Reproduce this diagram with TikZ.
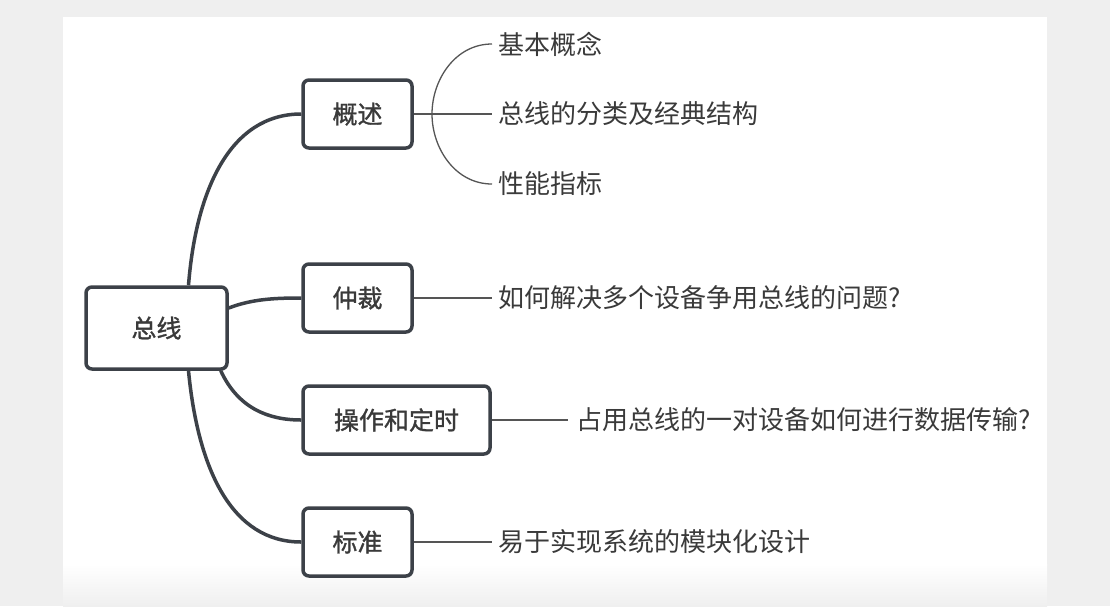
\documentclass[tikz,border=0pt]{standalone}
\usepackage{fontspec}
\setmainfont{Noto Sans CJK SC}
\newfontfamily\cjkbold{Noto Sans CJK SC}[FakeBold=1.2]
\usetikzlibrary{calc,backgrounds}
\definecolor{bggray}{HTML}{EFEFEF}
\definecolor{boxline}{HTML}{3C4148}
\definecolor{txt}{HTML}{3A3A3A}
\definecolor{thin}{HTML}{555555}
\tikzset{
  topicbox/.style={draw=boxline, line width=3.5pt, rounded corners=6pt, fill=white,
    minimum height=68pt, inner sep=0pt, font=\cjkbold\fontsize{25}{25}\selectfont, text=txt},
  leaf/.style={anchor=west, inner sep=0pt, font=\fontsize{26}{26}\selectfont, text=txt},
  thick link/.style={draw=boxline, line width=3.5pt},
  thin link/.style={draw=thin, line width=1.3pt},
}
\begin{document}
\begin{tikzpicture}[x=1pt,y=-1pt]
\useasboundingbox (0,0) rectangle (1110,606);

\node[topicbox, minimum width=141pt, minimum height=82pt] (zx) at (156.5,328) {总线};
\node[topicbox, minimum width=109pt] (gs) at (357.5,114) {概述};
\node[topicbox, minimum width=109pt] (zc) at (357.5,298) {仲裁};
\node[topicbox, minimum width=187pt] (cz) at (396.5,420) {操作和定时};
\node[topicbox, minimum width=109pt] (bz) at (357.5,542) {标准};

\node[leaf] (l1) at (498,44) {基本概念};
\node[leaf] (l2) at (498,114) {总线的分类及经典结构};
\node[leaf] (l3) at (498,184) {性能指标};
\node[leaf] (l4) at (498,298) {如何解决多个设备争用总线的问题?};
\node[leaf] (l5) at (576,420) {占用总线的一对设备如何进行数据传输?};
\node[leaf] (l6) at (498,542) {易于实现系统的模块化设计};

\begin{scope}[on background layer]
\fill[bggray] (0,0) rectangle (1110,606);
\fill[white] (63,17) rectangle (1047,565);
\shade[top color=white, bottom color=bggray] (63,564) rectangle (1047,606);
% thick connectors
\draw[thick link] ([xshift=32pt]zx.north) .. controls (196,190) and (230,114) .. (gs.west);
\draw[thick link] ([yshift=20pt]zx.east) .. controls (252,299) and (275,298) .. (zc.west);
\draw[thick link] ([xshift=-8pt]zx.south east) .. controls (238,408) and (268,420) .. (cz.west);
\draw[thick link] ([xshift=32pt]zx.south) .. controls (198,470) and (232,542) .. (bz.west);
\end{scope}

% thin connectors
\coordinate (br) at (432,114);
\draw[thin link] (gs.east) -- ([xshift=-6pt]l2.west);
\draw[thin link] ([xshift=-6pt]l1.west) .. controls (455,44) and (432,80) .. (br)
  .. controls (432,148) and (455,184) .. ([xshift=-6pt]l3.west);
\draw[thin link] (zc.east) -- ([xshift=-6pt]l4.west);
\draw[thin link] (cz.east) -- ([xshift=-8pt]l5.west);
\draw[thin link] (bz.east) -- ([xshift=-6pt]l6.west);
\end{tikzpicture}
\end{document}
